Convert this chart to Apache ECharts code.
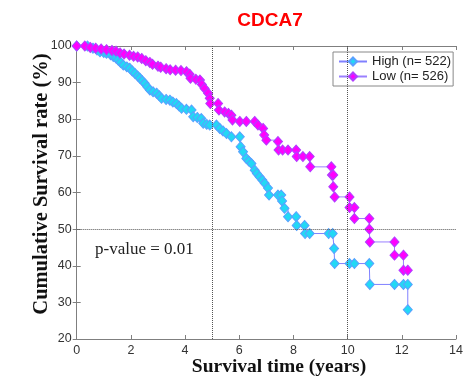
<!DOCTYPE html>
<html><head><meta charset="utf-8">
<script src="https://cdn.jsdelivr.net/npm/echarts@6/dist/echarts.min.js"></script>
<style>html,body{margin:0;padding:0;background:#fff}#c{width:466px;height:378px}</style>
</head><body><div id="c"></div>
<script>
const highTimes = [0,0.4,0.6,0.75,0.86,1.0,1.1,1.25,1.35,1.45,1.53,1.62,1.72,1.85,1.96,2.05,2.15,2.25,2.33,2.42,2.51,2.6,2.7,2.82,2.95,3.05,3.13,3.3,3.44,3.55,3.68,3.78,3.87,4.05,4.24,4.3,4.45,4.6,4.67,4.8,4.91,5.16,5.28,5.4,5.53,5.71,6.02,6.05,6.14,6.26,6.35,6.45,6.57,6.65,6.75,6.85,6.94,7.06,7.1,7.43,7.55,7.58,7.67,7.8,8.1,8.12,8.41,8.43,8.6,9.3,9.45,9.5,9.52,10.07,10.25,10.8,10.82,11.73,12.06,12.22,12.22];
const highSurv  = [100,100,99.4,98.9,98.4,98.2,98.0,97.6,97.1,96.7,96.2,95.5,94.8,94.3,93.9,93.2,92.5,91.8,91.2,90.5,89.8,88.9,88.0,87.5,87.1,86.4,85.7,85.4,85.2,84.7,84.3,83.6,83.0,82.7,82.5,80.7,80.5,80.2,78.9,78.6,78.4,78.4,77.5,76.8,76.1,75.2,75.2,72.5,71.1,69.3,68.6,67.9,66.1,65.2,64.3,63.4,62.5,61.2,59.3,59.3,59.3,57.7,55.7,53.4,53.4,51.0,51.0,48.8,48.8,48.8,48.8,44.7,40.6,40.6,40.6,40.6,34.9,34.9,34.9,34.9,28.0];
const lowTimes = [0,0.3,0.5,0.7,0.9,1.1,1.3,1.45,1.6,1.75,1.95,2.1,2.25,2.4,2.55,2.7,2.8,3.0,3.1,3.3,3.45,3.65,3.85,4.05,4.17,4.2,4.4,4.55,4.62,4.72,4.85,4.91,4.93,5.22,5.25,5.46,5.6,5.71,5.75,6.02,6.26,6.57,6.69,6.88,6.92,7.0,7.43,7.45,7.6,7.8,8.1,8.12,8.35,8.6,8.62,9.4,9.42,9.47,9.47,9.52,10.07,10.07,10.25,10.25,10.8,10.8,10.82,11.73,11.73,12.06,12.06,12.22];
const lowSurv  = [100,100,99.6,99.4,99.2,99.0,98.8,98.6,98.1,97.8,97.5,97.2,97.0,96.6,96.0,95.5,95.0,94.5,94.2,93.8,93.5,93.4,93.3,93.0,92.3,91.2,90.9,90.7,89.5,88.4,87.1,85.7,84.3,84.3,82.5,82.0,81.6,81.1,79.8,79.4,79.4,79.4,78.4,77.5,75.7,74.3,73.9,71.6,71.6,71.6,71.6,69.8,69.8,69.8,67.0,67.0,64.8,64.8,61.6,58.8,58.8,55.9,55.9,52.9,52.9,50.0,46.5,46.5,42.9,42.9,38.8,38.8];
const seriesNames = ['High (n= 522)', 'Low (n= 526)'];
const xTicks = [0,2,4,6,8,10,12,14];
const yTicks = [20,30,40,50,60,70,80,90,100];
const refX = [5, 10];
const refY = [50];

const zip = (a,b) => a.map((t,i)=>[t,b[i]]);
const chart = echarts.init(document.getElementById('c'));
const axisCommon = {
  axisLine:{show:true,lineStyle:{color:'#7f7f7f',width:1}},
  axisTick:{show:true,inside:true,length:4,lineStyle:{color:'#7f7f7f'}},
  splitLine:{show:false}
};
const refLines = {
  silent:true, symbol:'none', label:{show:false},
  lineStyle:{color:'#555',type:'dotted',width:1},
  data: refX.map(v=>({xAxis:v})).concat(refY.map(v=>({yAxis:v})))
};
chart.setOption({
  animation:false,
  title:{text:'CDCA7',left:265,top:6,textAlign:'center',
    textStyle:{color:'#ff0000',fontSize:19,fontWeight:'bold',fontFamily:'Liberation Sans'}},
  grid:{left:76.7,right:10,top:46,bottom:39},
  legend:{orient:'vertical',left:333,top:52,padding:[3,2,3,5],itemGap:2,
    backgroundColor:'#fff',borderColor:'#888',borderWidth:1,borderRadius:0,
    itemWidth:28,itemHeight:10,
    textStyle:{fontSize:13,color:'#222',fontFamily:'Liberation Sans'},
    data:seriesNames},
  xAxis:[
    Object.assign({type:'value',min:0,max:14,interval:2,position:'bottom',
      axisLabel:{fontSize:12.5,color:'#333',margin:5,fontFamily:'Liberation Sans'}},axisCommon),
    Object.assign({type:'value',min:0,max:14,interval:2,position:'top',axisLabel:{show:false}},axisCommon)
  ],
  yAxis:[
    Object.assign({type:'value',min:20,max:100,interval:10,position:'left',
      axisLabel:{fontSize:12.5,color:'#333',margin:5,fontFamily:'Liberation Sans'}},axisCommon),
    Object.assign({type:'value',min:20,max:100,interval:10,position:'right',axisLabel:{show:false}},axisCommon)
  ],
  graphic:[
    {type:'text',left:95,top:241,
      style:{text:'p-value = 0.01',fontSize:17,fontFamily:'Liberation Serif',fill:'#222'}},
    {type:'text',x:279,y:367,
      style:{text:'Survival time (years)',fontSize:19.5,fontWeight:'bold',fontFamily:'Liberation Serif',
        fill:'#111',align:'center',verticalAlign:'middle'}},
    {type:'text',x:42,y:184,rotation:Math.PI/2,
      style:{text:'Cumulative Survival rate (%)',fontSize:20.5,fontWeight:'bold',fontFamily:'Liberation Serif',
        fill:'#111',align:'center',verticalAlign:'middle'}}
  ],
  series:[
    {name:seriesNames[0],type:'line',step:'end',data:zip(highTimes,highSurv),
      symbol:'diamond',symbolSize:[9,10],
      lineStyle:{color:'#8080ff',width:1},
      itemStyle:{color:'#22d8f5',borderColor:'#5aa0ff',borderWidth:1},
      markLine:refLines,z:3},
    {name:seriesNames[1],type:'line',step:'end',data:zip(lowTimes,lowSurv),
      symbol:'diamond',symbolSize:[9,10],
      lineStyle:{color:'#9a80ff',width:1},
      itemStyle:{color:'#ff00ff',borderColor:'#b040ff',borderWidth:1},z:4}
  ]
});
</script></body></html>
